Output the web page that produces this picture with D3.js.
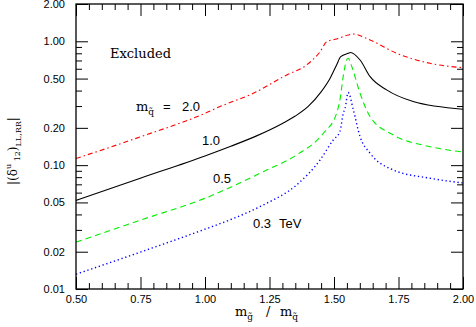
<!DOCTYPE html>
<html><head><meta charset="utf-8">
<script src="https://cdn.jsdelivr.net/npm/d3@7"></script>
<style>
body{margin:0;background:#fff;}
svg{display:block;}
text{fill:#000;}
</style></head>
<body>
<svg id="c" width="476" height="327"></svg>
<script>
// ---- data ----
const xMajorTicks = [0.5, 0.75, 1.0, 1.25, 1.5, 1.75, 2.0];
const xMajorLabels = ["0.50", "0.75", "1.00", "1.25", "1.50", "1.75", "2.00"];
const xMinorTicks = [0.55,0.6,0.65,0.7,0.8,0.85,0.9,0.95,1.05,1.1,1.15,1.2,1.3,1.35,1.4,1.45,1.55,1.6,1.65,1.7,1.8,1.85,1.9,1.95];
const yMajorTicks = [0.01, 0.02, 0.05, 0.1, 0.2, 0.5, 1, 2];
const yMajorLabels = ["0.01", "0.02", "0.05", "0.10", "0.20", "0.50", "1.00", "2.00"];
const yMinorTicks = [0.03, 0.04, 0.06, 0.07, 0.08, 0.09, 0.3, 0.4, 0.6, 0.7, 0.8, 0.9];

// m_squark = 2.0 TeV (red dash-dot)
const curve20 = [[0.5,0.113],[0.752,0.170],[1.0,0.262],[1.058,0.297],[1.187,0.380],[1.317,0.535],[1.394,0.644],[1.446,0.824],[1.472,0.993],[1.510,1.043],[1.555,1.124],[1.574,1.145],[1.640,1.024],[1.743,0.800],[1.872,0.664],[2.0,0.612]];
// m_squark = 1.0 TeV (black solid)
const curve10 = [[0.5,0.0519],[0.752,0.0788],[1.0,0.1187],[1.1,0.1421],[1.2,0.1723],[1.3,0.2170],[1.35,0.2490],[1.4,0.2978],[1.45,0.390],[1.485,0.503],[1.510,0.644],[1.526,0.751],[1.555,0.800],[1.564,0.812],[1.601,0.706],[1.640,0.518],[1.704,0.405],[1.807,0.326],[2.0,0.283]];
// m_squark = 0.5 TeV (green dashed)
const curve05 = [[0.5,0.0239],[0.752,0.0361],[1.0,0.0540],[1.226,0.0886],[1.355,0.1209],[1.459,0.1809],[1.510,0.2623],[1.523,0.336],[1.536,0.525],[1.549,0.706],[1.555,0.729],[1.569,0.624],[1.601,0.380],[1.640,0.246],[1.730,0.1753],[1.872,0.141],[2.0,0.1278]];
// m_squark = 0.3 TeV (blue dotted)
const curve03 = [[0.5,0.01316],[0.752,0.01993],[1.0,0.0304],[1.1,0.0364],[1.226,0.0477],[1.355,0.0692],[1.446,0.1101],[1.497,0.1597],[1.523,0.1864],[1.536,0.2623],[1.543,0.2878],[1.555,0.3861],[1.575,0.279],[1.601,0.1698],[1.640,0.1247],[1.730,0.0914],[1.872,0.0784],[2.0,0.0718]];

const series = [
  {data: curve20, color: "#ff0000", dash: "5,3,1.5,3", width: 1.1},
  {data: curve10, color: "#000000", dash: null, width: 1.1},
  {data: curve05, color: "#00ee00", dash: "6,4", width: 1.1},
  {data: curve03, color: "#0000ff", dash: "1.3,2.7", width: 1.4}
];

// ---- layout ----
const W = 476, H = 327;
const m = {left: 76, right: 13, top: 4, bottom: 38};
const pw = W - m.left - m.right, ph = H - m.top - m.bottom;
const svg = d3.select("#c");
const g = svg.append("g").attr("transform", `translate(${m.left},${m.top})`);

const x = d3.scaleLinear().domain([0.5, 2.0]).range([0, pw]);
const y = d3.scaleLog().domain([0.01, 2.0]).range([ph, 0]);

svg.append("defs").append("clipPath").attr("id","clip")
  .append("rect").attr("width", pw).attr("height", ph);

const line = d3.line().x(d => x(d[0])).y(d => y(d[1])).curve(d3.curveMonotoneX);
const lg = g.append("g").attr("clip-path","url(#clip)");
series.forEach(s => {
  lg.append("path").datum(s.data)
    .attr("d", line)
    .attr("fill","none")
    .attr("stroke", s.color)
    .attr("stroke-width", s.width)
    .attr("stroke-dasharray", s.dash);
});

const tickFont = "Liberation Sans, Arial, sans-serif";
function styleAxis(sel, showText){
  sel.select(".domain").remove();
  sel.selectAll(".tick line").attr("stroke","#000").attr("stroke-width",1);
  sel.selectAll("text").attr("font-family", tickFont).attr("font-size", 11).attr("fill","#000");
  if(!showText) sel.selectAll("text").remove();
}
g.append("g").attr("transform",`translate(0,${ph})`)
  .call(d3.axisBottom(x).tickValues(xMajorTicks).tickSize(-12).tickPadding(6)
    .tickFormat((d,i) => xMajorLabels[i]))
  .call(s => styleAxis(s, true));
g.append("g").attr("transform",`translate(0,${ph})`)
  .call(d3.axisBottom(x).tickValues(xMinorTicks).tickSize(-6).tickFormat(""))
  .call(s => styleAxis(s, false));
g.append("g")
  .call(d3.axisTop(x).tickValues(xMajorTicks).tickSize(-12).tickFormat(""))
  .call(s => styleAxis(s, false));
g.append("g")
  .call(d3.axisTop(x).tickValues(xMinorTicks).tickSize(-6).tickFormat(""))
  .call(s => styleAxis(s, false));
g.append("g")
  .call(d3.axisLeft(y).tickValues(yMajorTicks).tickSize(-12).tickPadding(11)
    .tickFormat((d,i) => yMajorLabels[i]))
  .call(s => styleAxis(s, true));
g.append("g")
  .call(d3.axisLeft(y).tickValues(yMinorTicks).tickSize(-6).tickFormat(""))
  .call(s => styleAxis(s, false));
g.append("g").attr("transform",`translate(${pw},0)`)
  .call(d3.axisRight(y).tickValues(yMajorTicks).tickSize(-12).tickFormat(""))
  .call(s => styleAxis(s, false));
g.append("g").attr("transform",`translate(${pw},0)`)
  .call(d3.axisRight(y).tickValues(yMinorTicks).tickSize(-6).tickFormat(""))
  .call(s => styleAxis(s, false));

g.append("rect").attr("width", pw).attr("height", ph)
  .attr("fill","none").attr("stroke","#000").attr("stroke-width",1.3);

// annotations
const serif = "DejaVu Serif, Liberation Serif, serif";
const sans = "Liberation Sans, Arial, sans-serif";
svg.append("text").attr("x",110).attr("y",58).attr("font-family",serif).attr("font-size",13).text("Excluded");

const t20 = svg.append("text").attr("x",136).attr("y",111).attr("font-family",sans).attr("font-size",13);
t20.append("tspan").attr("font-family",serif).text("m");
t20.append("tspan").attr("font-family",serif).attr("font-size",9).attr("dy",4).text("q\u0303");
t20.append("tspan").attr("dy",-4).attr("x",163).text("=");
t20.append("tspan").attr("x",182).text("2.0");

svg.append("text").attr("x",202).attr("y",145).attr("font-family",sans).attr("font-size",13).text("1.0");
svg.append("text").attr("x",213).attr("y",183).attr("font-family",sans).attr("font-size",13).text("0.5");
const t03 = svg.append("text").attr("x",253).attr("y",228).attr("font-family",sans).attr("font-size",13);
t03.append("tspan").text("0.3");
t03.append("tspan").attr("x",279).text("TeV");

const xt = svg.append("text").attr("x",235).attr("y",316).attr("font-family",serif).attr("font-size",13);
xt.append("tspan").text("m");
xt.append("tspan").attr("font-size",9).attr("dy",4).text("g\u0303");
xt.append("tspan").attr("dy",-4).attr("x",266).text("/");
xt.append("tspan").attr("x",280).text("m");
xt.append("tspan").attr("font-size",9).attr("dy",4).text("q\u0303");

const yt = svg.append("text").attr("transform","translate(17,185) rotate(-90)")
  .attr("font-family",serif).attr("font-size",12);
yt.append("tspan").text("|(\u03b4");
yt.append("tspan").attr("font-size",8).attr("dy",-6).text("u");
yt.append("tspan").attr("font-size",8).attr("dy",9).text(" 12");
yt.append("tspan").attr("dy",-3).text(")");
yt.append("tspan").attr("font-size",8).attr("dy",4).text("LL,RR");
yt.append("tspan").attr("dy",-4).text("|");
</script>
</body></html>
